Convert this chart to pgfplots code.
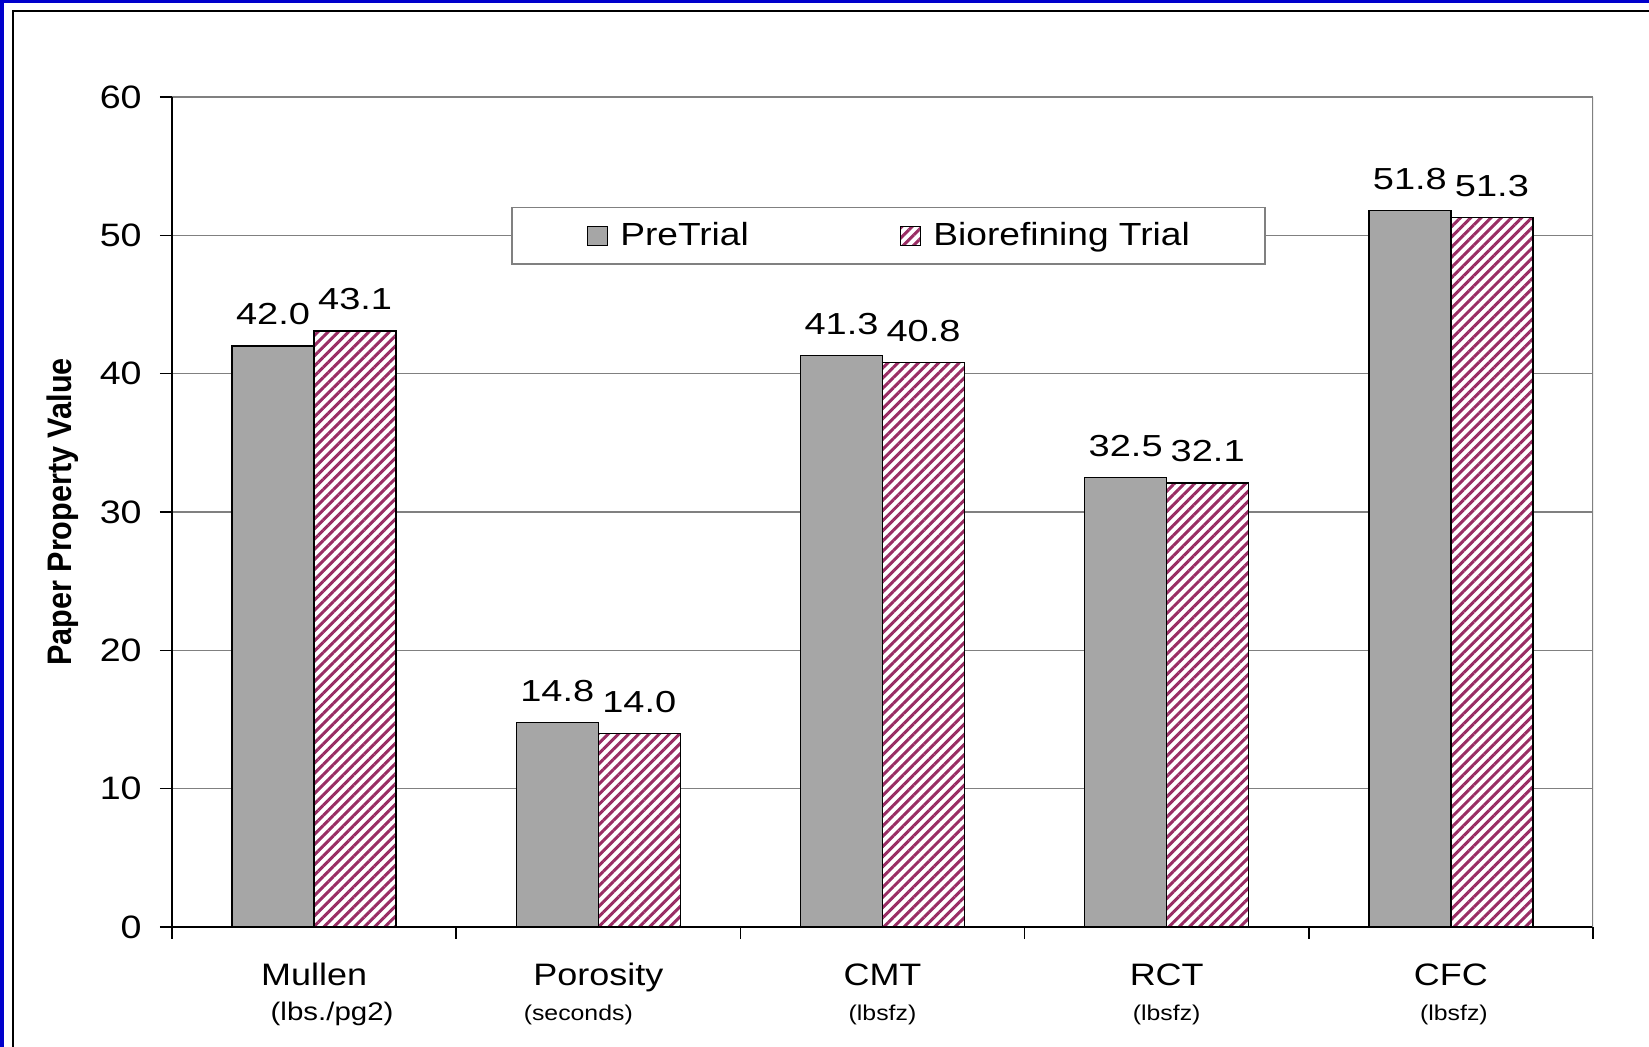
\documentclass[border=0pt]{standalone}
\usepackage{pgfplots}
\pgfplotsset{compat=1.18}
\usetikzlibrary{patterns.meta}
\usepackage{fontspec}
\setmainfont{Liberation Sans}[FakeStretch=1.16]
\newfontfamily\numfont{Liberation Sans}[FakeStretch=1.25]
\newfontfamily\ylabfont{Liberation Sans}[FakeStretch=0.9]

\definecolor{preGray}{RGB}{166,166,166}
\definecolor{bioPlum}{RGB}{153,45,100}
\definecolor{gridGray}{RGB}{128,128,128}
\definecolor{frameBlue}{RGB}{0,0,204}

\newcommand\subbig{\fontsize{12.7}{15}\selectfont}
\newcommand\subsmall{\fontsize{10.7}{13}\selectfont}

\begin{document}
\begin{tikzpicture}
% page frame: 1649 x 1047 px at 0.5pt per px, axis origin at (0,0)
\useasboundingbox (-86pt,-60pt) rectangle (738.5pt,463.5pt);
\fill[frameBlue] (-86pt,-60pt) rectangle (-84pt,463.5pt);
\fill[frameBlue] (-86pt,462pt) rectangle (738.5pt,463.5pt);
\draw[black, line width=0.75pt] (-79.5pt,-60pt) -- (-79.5pt,458pt) -- (738.5pt,458pt);

\begin{axis}[
  scale only axis, width=710.5pt, height=415pt,
  at={(0,0)}, anchor=south west,
  /pgf/number format/assume math mode=true,
  ybar=0pt, bar width=0.2886,
  xmin=-0.5, xmax=4.5, ymin=0, ymax=60,
  ytick={0,10,...,60},
  xtick={-0.5,0.5,...,4.5},
  x tick label as interval,
  xticklabels={
    {Mullen\\\hbox{\kern18pt\subbig(lbs./pg2)}},
    {Porosity\\\hbox{\subsmall(seconds)\kern20pt}},
    {CMT\\\hbox{\subsmall(lbsfz)}},
    {RCT\\\hbox{\subsmall(lbsfz)}},
    {CFC\\\hbox{\kern3pt\subsmall(lbsfz)}}},
  axis lines=left,
  axis line style={-, black, line width=0.75pt},
  tick align=outside, major tick length=6pt,
  tick style={black, line width=0.75pt},
  ymajorgrids, grid style={gridGray, line width=0.6pt},
  yticklabel style={font=\fontsize{16.2}{18}\selectfont, inner sep=0pt, anchor=east, xshift=-9pt},
  xticklabel style={font=\fontsize{15.5}{17.5}\selectfont, align=center, inner sep=0pt, anchor=north, yshift=-12pt},
  every axis y label/.style={at={([xshift=-54.5pt]axis description cs:0,0.5)}, rotate=90, anchor=center},
  ylabel={\ylabfont\bfseries\fontsize{17}{19}\selectfont Paper Property Value},
  nodes near coords={\pgfmathprintnumber[fixed,fixed zerofill,precision=1]{\pgfplotspointmeta}},
  every node near coord/.append style={font=\numfont\fontsize{15.2}{18}\selectfont, anchor=south, inner sep=0pt, yshift=10pt, black},
  legend columns=2,
  legend image code/.code={\draw[#1, line width=0.75pt] (0pt,-4.75pt) rectangle (10pt,4.75pt);},
  legend style={
    at={(axis description cs:0.2386,0.8675)}, anchor=north west,
    draw=gridGray, line width=0.75pt, fill=white,
    font=\fontsize{16}{19}\selectfont,
    inner xsep=37.5pt, inner ysep=7.5pt,
    nodes={inner sep=0pt},
    /tikz/every odd column/.append style={column sep=6pt},
    /tikz/every even column/.append style={column sep=75.5pt}},
]
\addplot[fill=preGray, draw=black, line width=0.75pt]
  coordinates {(0,42.0) (1,14.8) (2,41.3) (3,32.5) (4,51.8)};
\addplot[fill=white, draw=black, line width=0.75pt,
  postaction={pattern={Lines[angle=45,distance=3.6pt,line width=1.5pt]}, pattern color=bioPlum}]
  coordinates {(0,43.1) (1,14.0) (2,40.8) (3,32.1) (4,51.3)};
\legend{PreTrial, Biorefining Trial}
\draw[gridGray, line width=0.6pt] (rel axis cs:1,0) -- (rel axis cs:1,1);
\end{axis}
\end{tikzpicture}
\end{document}
